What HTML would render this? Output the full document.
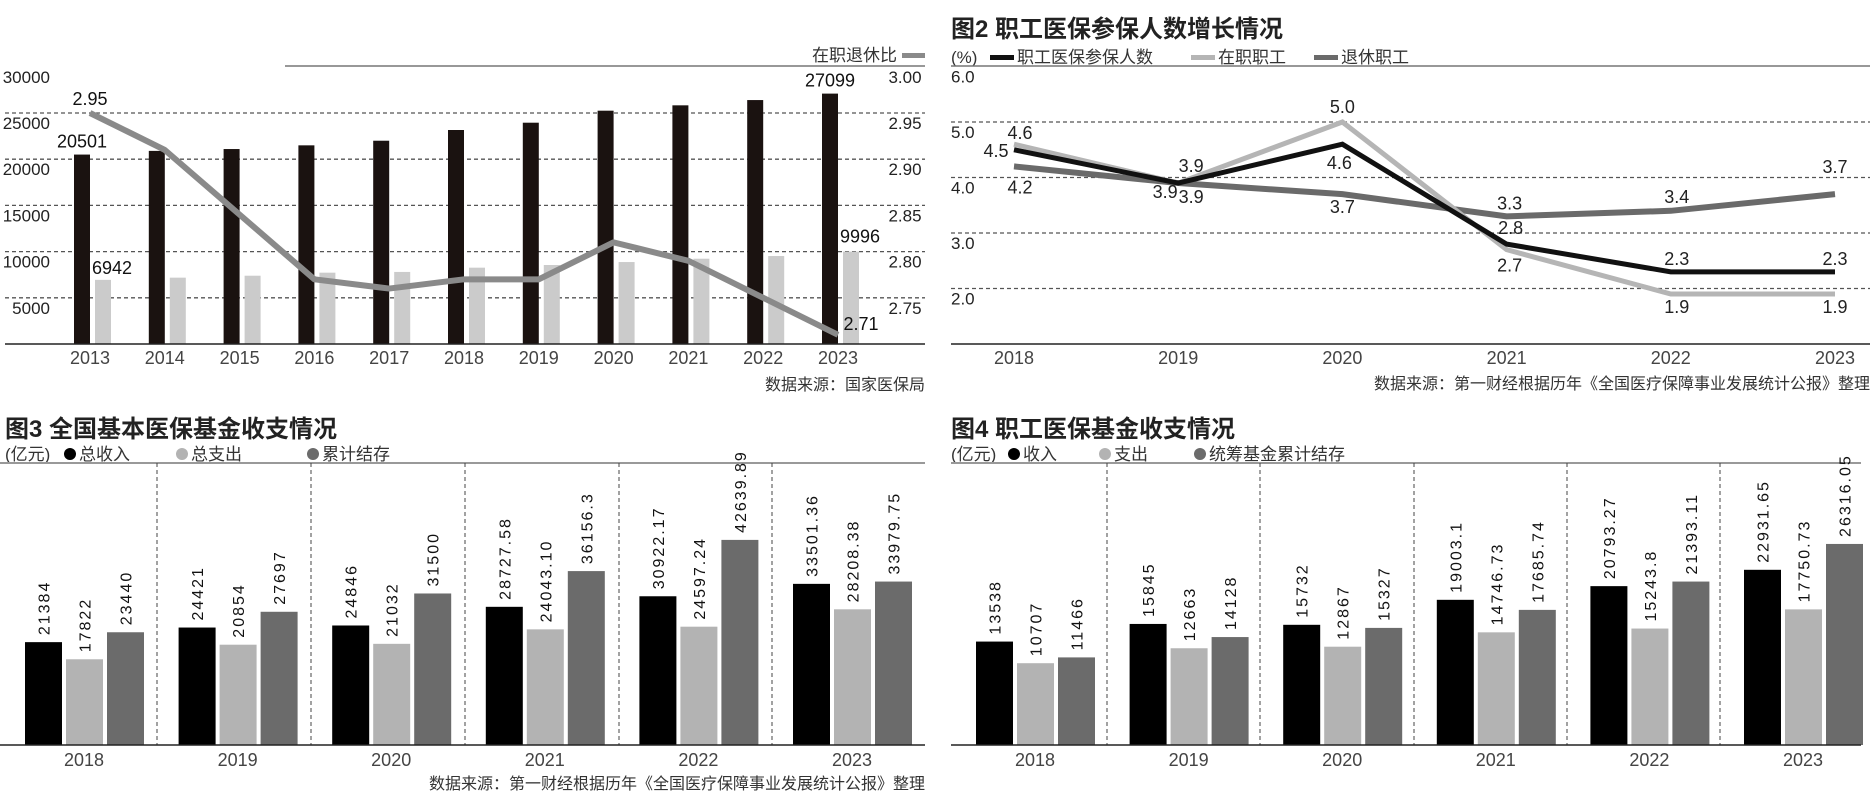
<!DOCTYPE html>
<html><head><meta charset="utf-8">
<style>
html,body{margin:0;padding:0;background:#fff;}
svg{display:block;font-family:"Liberation Sans","Noto Sans CJK SC",sans-serif;}
</style></head>
<body>
<svg id="s" width="1876" height="803" viewBox="0 0 1876 803" xmlns="http://www.w3.org/2000/svg">
<rect width="1876" height="803" fill="#fff"/>
<g id="c1"></g>
<g id="c2"></g>
<g id="c3"></g>
<g id="c4"></g>
</svg>
<script>
// Chart 1 data
const c1Years = ['2013','2014','2015','2016','2017','2018','2019','2020','2021','2022','2023'];
const c1Employed = [20501,20900,21100,21500,22000,23160,23950,25250,25830,26400,27099];
const c1Retired = [6942,7180,7390,7720,7800,8260,8550,8870,9230,9520,9996];
const c1Ratio = [2.95,2.91,2.84,2.77,2.76,2.77,2.77,2.81,2.79,2.75,2.71];
const c1LeftTicks = [5000,10000,15000,20000,25000,30000];
const c1RightTicks = ['2.75','2.80','2.85','2.90','2.95','3.00'];
// Chart 2 data
const c2Years = ['2018','2019','2020','2021','2022','2023'];
const c2Total = [4.5,3.9,4.6,2.8,2.3,2.3];
const c2Employed = [4.6,3.9,5.0,2.7,1.9,1.9];
const c2Retired = [4.2,3.9,3.7,3.3,3.4,3.7];
const c2Ticks = ['2.0','3.0','4.0','5.0','6.0'];
// Chart 3 data
const c3Years = ['2018','2019','2020','2021','2022','2023'];
const c3Income = [21384,24421,24846,28727.58,30922.17,33501.36];
const c3Expense = [17822,20854,21032,24043.10,24597.24,28208.38];
const c3Balance = [23440,27697,31500,36156.3,42639.89,33979.75];
const c3IncomeLbl = ['21384','24421','24846','28727.58','30922.17','33501.36'];
const c3ExpenseLbl = ['17822','20854','21032','24043.10','24597.24','28208.38'];
const c3BalanceLbl = ['23440','27697','31500','36156.3','42639.89','33979.75'];
// Chart 4 data
const c4Years = ['2018','2019','2020','2021','2022','2023'];
const c4Income = [13538,15845,15732,19003.1,20793.27,22931.65];
const c4Expense = [10707,12663,12867,14746.73,15243.8,17750.73];
const c4Balance = [11466,14128,15327,17685.74,21393.11,26316.05];
const c4IncomeLbl = ['13538','15845','15732','19003.1','20793.27','22931.65'];
const c4ExpenseLbl = ['10707','12663','12867','14746.73','15243.8','17750.73'];
const c4BalanceLbl = ['11466','14128','15327','17685.74','21393.11','26316.05'];

const NS='http://www.w3.org/2000/svg';
function mk(parent,tag,attrs,txt){const e=document.createElementNS(NS,tag);for(const k in attrs)e.setAttribute(k,attrs[k]);if(txt!==undefined)e.textContent=txt;parent.appendChild(e);return e;}

// ---------- Chart 1 ----------
(function(){
const g=document.getElementById('c1');
const y=v=>344-v*46.2/5000;
const yr=v=>344-(v-2.70)*46.2/0.05;
const x=i=>90+i*74.8;
let e;
e=mk(g,'line',{x1:285,y1:66,x2:925,y2:66,stroke:'#777','stroke-width':1.5});

c1LeftTicks.forEach((t,i)=>{
  if(t<30000){e=mk(g,'line',{x1:5,x2:925,y1:y(t),y2:y(t),stroke:'#555','stroke-width':1.3,'stroke-dasharray':'4 3'});
  }
  e=mk(g,'text',{x:50,y:y(t)+16,'text-anchor':'end','font-size':17,fill:'#222'},String(t));
  
  e=mk(g,'text',{x:905,y:y(t)+16,'text-anchor':'middle','font-size':17,fill:'#222'},c1RightTicks[i]);
  
});
c1Years.forEach((yy,i)=>{
  e=mk(g,'rect',{x:x(i)-16,y:y(c1Employed[i]),width:16,height:344-y(c1Employed[i]),fill:'#1a1210'});
  
  e=mk(g,'rect',{x:x(i)+5,y:y(c1Retired[i]),width:16,height:344-y(c1Retired[i]),fill:'#cbcbcb'});
  
  e=mk(g,'text',{x:x(i),y:364,'text-anchor':'middle','font-size':18,fill:'#444'},yy);
  
});
e=mk(g,'line',{x1:5,x2:925,y1:344,y2:344,stroke:'#222','stroke-width':1.5});

e=mk(g,'polyline',{points:c1Ratio.map((v,i)=>x(i)+','+yr(v)).join(' '),fill:'none',stroke:'#8a8a8a','stroke-width':6,'stroke-linejoin':'round'});

const n=c1Years.length-1;
[[x(0)-8,y(c1Employed[0])-7,String(c1Employed[0])],[x(n)-8,y(c1Employed[n])-7,String(c1Employed[n])],
 [x(0)+22,y(c1Retired[0])-6,String(c1Retired[0])],[x(n)+22,y(c1Retired[n])-9,String(c1Retired[n])],
 [x(0),yr(c1Ratio[0])-8,c1Ratio[0].toFixed(2)],[x(n)+23,yr(c1Ratio[n])-5,c1Ratio[n].toFixed(2)]].forEach(a=>{
  e=mk(g,'text',{x:a[0],y:a[1],'text-anchor':'middle','font-size':18,fill:'#111'},a[2]);
  
});
e=mk(g,'text',{x:897,y:61,'text-anchor':'end','font-size':17,fill:'#333'},'在职退休比');

e=mk(g,'rect',{x:902,y:53,width:23,height:5,fill:'#8a8a8a'});

e=mk(g,'text',{x:925,y:390,'text-anchor':'end','font-size':16,fill:'#333'},'数据来源：国家医保局');

})();

// ---------- Chart 2 ----------
(function(){
const g=document.getElementById('c2');
const y=v=>66.5+(6-v)*55.5;
const x=i=>1014+i*164.2;
let e;
e=mk(g,'text',{x:951,y:37,'font-size':24,'font-weight':'bold',fill:'#222'},'图2 职工医保参保人数增长情况');

e=mk(g,'text',{x:951,y:63,'font-size':17,fill:'#333'},'(%)');

[[990,'#111','职工医保参保人数'],[1191,'#b5b5b5','在职职工'],[1314,'#6a6a6a','退休职工']].forEach(l=>{
  e=mk(g,'rect',{x:l[0],y:55,width:24,height:5,fill:l[1]});
  
  e=mk(g,'text',{x:l[0]+27,y:63,'font-size':17,fill:'#333'},l[2]);
  
});
e=mk(g,'line',{x1:951,x2:1870,y1:66,y2:66,stroke:'#777','stroke-width':1.5});

c2Ticks.forEach(t=>{
  const v=parseFloat(t);
  if(v<6){e=mk(g,'line',{x1:951,x2:1870,y1:y(v),y2:y(v),stroke:'#555','stroke-width':1.3,'stroke-dasharray':'4 3'});
  }
  e=mk(g,'text',{x:951,y:y(v)+16,'font-size':17,fill:'#222'},t);
  
});
e=mk(g,'line',{x1:951,x2:1870,y1:344,y2:344,stroke:'#222','stroke-width':1.5});

c2Years.forEach((yy,i)=>{
  e=mk(g,'text',{x:x(i),y:364,'text-anchor':'middle','font-size':18,fill:'#444'},yy);
  
});
const series=[
 [c2Retired,'#6a6a6a',6,'line-retired',[[6,21],[13,14],[0,13],[3,-13],[6,-14],[0,-27]]],
 [c2Employed,'#b5b5b5',5,'line-employed',[[6,-11],[13,-17],[0,-15],[3,16],[6,13],[0,13]]],
 [c2Total,'#111',5,'line-total',[[-18,1],[-13,9],[-3,19],[4,-16],[6,-13],[0,-13]]]];
series.forEach(s=>{
  e=mk(g,'polyline',{points:s[0].map((v,i)=>x(i)+','+y(v)).join(' '),fill:'none',stroke:s[1],'stroke-width':s[2],'stroke-linejoin':'miter'});
  
});
series.forEach(s=>{
  s[0].forEach((v,i)=>{
    e=mk(g,'text',{x:x(i)+s[4][i][0],y:y(v)+s[4][i][1]+6,'text-anchor':'middle','font-size':18,fill:'#222'},v.toFixed(1));
    
  });
});
e=mk(g,'text',{x:1870,y:389,'text-anchor':'end','font-size':16,fill:'#333'},'数据来源：第一财经根据历年《全国医疗保障事业发展统计公报》整理');

})();

// ---------- Bar charts 3 & 4 ----------
function barChart(id,ox,title,legend,legX,years,s1,s2,s3,l1,l2,l3,scale,firstBar,divs,source,x0){
  const g=document.getElementById(id);
  const base=745;
  let e;
  e=mk(g,'text',{x:ox,y:437,'font-size':24,'font-weight':'bold',fill:'#222'},title);
  
  e=mk(g,'text',{x:ox,y:460,'font-size':17,fill:'#333'},'(亿元)');
  
  const cols=['#000','#b3b3b3','#6b6b6b'];
  legend.forEach((t,i)=>{
    e=mk(g,'circle',{cx:legX[i],cy:454,r:6,fill:cols[i]});
    
    e=mk(g,'text',{x:legX[i]+9,y:460,'font-size':17,fill:'#333'},t);
    
  });
  e=mk(g,'line',{x1:x0,x2:x0+925-(x0===0?0:15),y1:463,y2:463,stroke:'#999','stroke-width':2});
  
  divs.forEach(d=>{
    e=mk(g,'line',{x1:d,x2:d,y1:463,y2:base,stroke:'#444','stroke-width':1,'stroke-dasharray':'4 3'});
    
  });
  const step=153.6;
  years.forEach((yy,i)=>{
    const gx=firstBar+i*step;
    [[s1,l1],[s2,l2],[s3,l3]].forEach((s,j)=>{
      const h=s[0][i]*scale, bx=gx+j*41;
      e=mk(g,'rect',{x:bx,y:base-h,width:37,height:h,fill:cols[j]});
      
      e=mk(g,'text',{x:0,y:0,transform:'translate('+(bx+18.5+6)+','+(base-h-7)+') rotate(-90)','font-size':16,'letter-spacing':'2',fill:'#111'},s[1][i]);
      
    });
    e=mk(g,'text',{x:gx+59,y:766,'text-anchor':'middle','font-size':18,fill:'#444'},yy);
    
  });
  e=mk(g,'line',{x1:x0,x2:x0+925-(x0===0?0:15),y1:base,y2:base,stroke:'#222','stroke-width':1.5});
  
  if(source){e=mk(g,'text',{x:925,y:789,'text-anchor':'end','font-size':16,fill:'#333'},source);
  }
}
barChart('c3',5,'图3 全国基本医保基金收支情况',['总收入','总支出','累计结存'],[70,182,313],c3Years,c3Income,c3Expense,c3Balance,c3IncomeLbl,c3ExpenseLbl,c3BalanceLbl,0.00481,25,[157,311,465,619,772],'数据来源：第一财经根据历年《全国医疗保障事业发展统计公报》整理',0);
barChart('c4',951,'图4 职工医保基金收支情况',['收入','支出','统筹基金累计结存'],[1014,1105,1200],c4Years,c4Income,c4Expense,c4Balance,c4IncomeLbl,c4ExpenseLbl,c4BalanceLbl,0.00764,976,[1107,1260,1414,1567,1720],null,951);
</script>
</body></html>
